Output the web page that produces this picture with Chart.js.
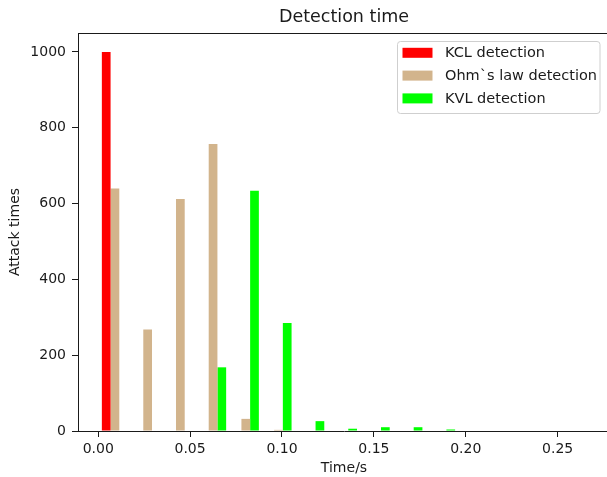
<!DOCTYPE html>
<html>
<head>
<meta charset="utf-8">
<script src="https://cdn.jsdelivr.net/npm/chart.js@4"></script>
<style>
  html, body { margin: 0; padding: 0; background: #fff; }
  /* el grafico original queda cortado por la derecha: el lienzo es un poco mas ancho */
  #wrap { width: 607px; height: 477px; overflow: hidden; position: relative; }
  #inner { width: 610px; height: 477px; position: relative; }
</style>
</head>
<body>
<div id="wrap"><div id="inner"><canvas id="chartDeteccion"></canvas></div></div>
<script>
// ==========================================
// DATOS
// ==========================================
const binCenters = [0.0091, 0.0269, 0.0447, 0.0625, 0.0803, 0.0981, 0.1159, 0.1337, 0.1515, 0.1693, 0.1871];
const kclCounts  = [1000, 0, 0, 0, 0, 0, 0, 0, 0, 0, 0];
const ohmCounts  = [640, 268, 612, 757, 32, 3, 0, 0, 0, 0, 0];
const kvlCounts  = [0, 0, 0, 168, 634, 285, 26, 6, 10, 10, 4];
const seriesLabels = ['KCL detection', 'Ohm`s law detection', 'KVL detection'];
const seriesColors = ['#ff0000', '#d2b48c', '#00ff00'];
const yTicks = [0, 200, 400, 600, 800, 1000];

const FONT = "'DejaVu Sans', sans-serif";
const INK = '#1a1a1a';

const toPoints = (vals) => binCenters.map((x, i) => ({ x: x, y: vals[i] }));

// marco superior del area del grafico (spine de arriba)
const topFrame = {
  id: 'topFrame',
  afterDraw(chart) {
    const { ctx, chartArea } = chart;
    ctx.save();
    ctx.strokeStyle = INK;
    ctx.lineWidth = 1;
    ctx.beginPath();
    ctx.moveTo(chartArea.left, Math.round(chartArea.top) + 0.5);
    ctx.lineTo(chartArea.right, Math.round(chartArea.top) + 0.5);
    ctx.stroke();
    ctx.restore();
  }
};

// leyenda dentro del area, arriba a la derecha (como matplotlib)
const innerLegend = {
  id: 'innerLegend',
  afterDraw(chart) {
    const { ctx, chartArea } = chart;
    const sets = chart.data.datasets;
    ctx.save();
    ctx.font = '14.5px ' + FONT;
    const textW = Math.max(...sets.map(d => ctx.measureText(d.label).width));
    const rowH = 22.8, patchW = 30, patchH = 10;
    const w = 5 + patchW + 12.5 + textW + 3;
    const h = 72;
    const x = chartArea.right - 10 - w;
    const y = chartArea.top + 8;
    ctx.fillStyle = 'rgba(255,255,255,0.8)';
    ctx.strokeStyle = '#cfcfcf';
    ctx.lineWidth = 1;
    ctx.beginPath();
    ctx.roundRect(Math.round(x) + 0.5, Math.round(y) + 0.5, w, h, 3);
    ctx.fill();
    ctx.stroke();
    sets.forEach((d, i) => {
      const cy = y + 11.8 + i * rowH;
      ctx.fillStyle = d.backgroundColor;
      ctx.fillRect(x + 5, cy - patchH / 2, patchW, patchH);
      ctx.fillStyle = INK;
      ctx.textBaseline = 'middle';
      ctx.fillText(d.label, x + 5 + patchW + 12.5, cy + 0.5);
    });
    ctx.restore();
  }
};

const chartDeteccion = new Chart(document.getElementById('chartDeteccion').getContext('2d'), {
  type: 'bar',
  data: {
    datasets: [
      { label: seriesLabels[0], data: toPoints(kclCounts), backgroundColor: seriesColors[0] },
      { label: seriesLabels[1], data: toPoints(ohmCounts), backgroundColor: seriesColors[1] },
      { label: seriesLabels[2], data: toPoints(kvlCounts), backgroundColor: seriesColors[2] }
    ]
  },
  options: {
    responsive: true,
    maintainAspectRatio: false,
    animation: false,
    layout: { padding: 0 },
    datasets: {
      bar: { categoryPercentage: 0.8, barPercentage: 1.0, grouped: true, borderWidth: 0 }
    },
    plugins: {
      legend: { display: false },
      tooltip: { enabled: false },
      title: {
        display: true,
        fullSize: false,
        text: 'Detection time',
        color: INK,
        font: { family: FONT, size: 17.5, weight: 'normal', lineHeight: 1.2 },
        padding: { top: 7.3, bottom: 4.7 }
      }
    },
    scales: {
      x: {
        type: 'linear',
        min: -0.0110,
        max: 0.2785,
        offset: false,
        grid: { display: true, drawOnChartArea: false, drawTicks: true, tickLength: 6, tickColor: INK, offset: false },
        border: { display: true, color: INK, width: 1 },
        ticks: {
          stepSize: 0.05,
          includeBounds: false,
          maxRotation: 0,
          padding: 4,
          color: INK,
          font: { family: FONT, size: 14 },
          callback: (v) => v.toFixed(2)
        },
        title: {
          display: true,
          text: 'Time/s',
          color: INK,
          font: { family: FONT, size: 14 },
          padding: { top: 0, bottom: 0 }
        },
        afterFit(scale) { scale.height = 46; }
      },
      y: {
        min: 0,
        max: 1050,
        grid: { display: true, drawOnChartArea: false, drawTicks: true, tickLength: 6, tickColor: INK },
        border: { display: true, color: INK, width: 1 },
        afterBuildTicks(scale) { scale.ticks = yTicks.map(v => ({ value: v })); },
        ticks: {
          padding: 6,
          color: INK,
          font: { family: FONT, size: 14 },
          callback: (v) => String(v)
        },
        title: {
          display: true,
          text: 'Attack times',
          color: INK,
          font: { family: FONT, size: 14 },
          padding: { top: 6.6, bottom: 0 }
        },
        afterFit(scale) { scale.width = 78; }
      }
    }
  },
  plugins: [topFrame, innerLegend]
});
</script>
</body>
</html>
